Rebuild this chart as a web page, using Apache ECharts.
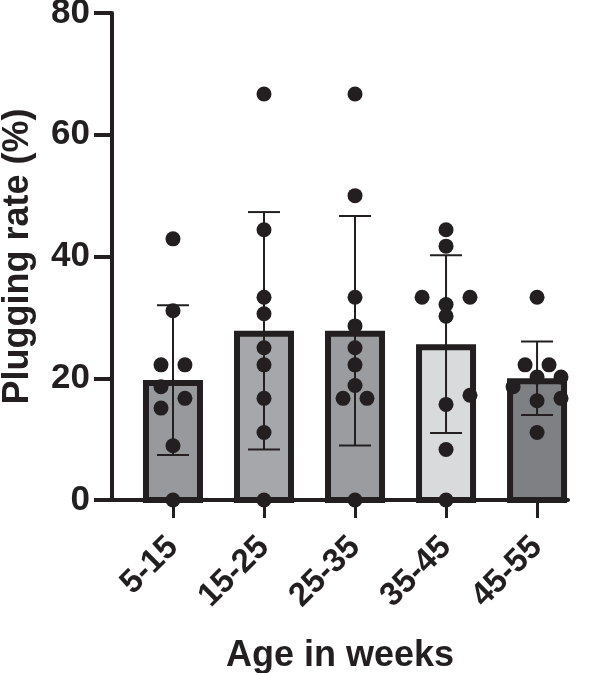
<!DOCTYPE html>
<html>
<head>
<meta charset="utf-8">
<title>Plugging rate</title>
<script src="https://cdn.jsdelivr.net/npm/echarts@6/dist/echarts.min.js"></script>
<style>
  html, body { margin: 0; padding: 0; background: #fff; }
  #main { width: 603px; height: 673px; }
</style>
</head>
<body>
<div id="main"></div>
<script>
var categories = ['5-15', '15-25', '25-35', '35-45', '45-55'];
var yTicks = [0, 20, 40, 60, 80];
var means = [19.7, 27.8, 27.8, 25.6, 20.0];
var sds = [12.3, 19.5, 18.85, 14.6, 6.05];

// individual points per age group, with horizontal jitter in "steps"
var pts1 = [42.9, 31.1, 22.2, 22.2, 18.6, 16.7, 15.1, 8.9, 0];
var jit1 = [0, 0, -1, 1, -1, 1, -1, 0, 0];
var pts2 = [66.7, 44.4, 33.3, 30.6, 25.0, 22.2, 16.7, 11.1, 0];
var jit2 = [0, 0, 0, 0, 0, 0, 0, 0, 0];
var pts3 = [66.7, 50.0, 33.3, 28.6, 25.0, 22.2, 18.8, 16.7, 16.7, 0];
var jit3 = [0, 0, 0, 0, 0, 0, 0, -1, 1, 0];
var pts4 = [44.4, 41.7, 33.3, 33.3, 32.1, 30.2, 17.2, 15.7, 8.3, 0];
var jit4 = [0, 0, -2, 2, 0, 0, 2, 0, 0, 0];
var pts5 = [33.3, 22.2, 22.2, 20.2, 20.2, 18.6, 16.3, 16.7, 11.1];
var jit5 = [0, -1, 1, 0, 2, -2, 0, 2, 0];

var ink = '#231f20';
var fills = ['#98999c', '#a6a7aa', '#9b9c9f', '#d9dadc', '#7f8083'];
var font = "'Liberation Sans', Arial, Helvetica, sans-serif";
var step = 0.1316;

var groups = [[pts1, jit1], [pts2, jit2], [pts3, jit3], [pts4, jit4], [pts5, jit5]];
var dots = [];
groups.forEach(function (g, i) {
    g[0].forEach(function (v, k) {
        dots.push([i + g[1][k] * step, v]);
    });
});
var barData = means.map(function (m, i) { return [i, m, sds[i]]; });
var tickIdx = categories.map(function (c, i) { return i; });

var chart = echarts.init(document.getElementById('main'));
var option = {
    animation: false,
    grid: { left: 112, right: 35, top: 13, bottom: 173, containLabel: false, outerBoundsMode: 'none' },
    xAxis: {
        type: 'value',
        min: -0.67,
        max: 4.34,
        splitLine: { show: false },
        axisLine: { show: true, lineStyle: { color: ink, width: 4 } },
        axisTick: { show: true, customValues: tickIdx, length: 18, lineStyle: { color: ink, width: 3 } },
        axisLabel: {
            customValues: tickIdx,
            rotate: 45,
            margin: 42,
            color: ink,
            fontFamily: font,
            fontWeight: 'bold',
            fontSize: 33,
            formatter: function (v) { return categories[Math.round(v)]; }
        },
        name: 'Age in weeks',
        nameLocation: 'middle',
        nameGap: 138,
        nameTextStyle: { color: ink, fontFamily: font, fontWeight: 'bold', fontSize: 36 }
    },
    yAxis: {
        type: 'value',
        min: yTicks[0],
        max: yTicks[yTicks.length - 1],
        interval: 20,
        splitLine: { show: false },
        axisLine: { show: true, onZero: false, lineStyle: { color: ink, width: 4 } },
        axisTick: { show: true, length: 18, lineStyle: { color: ink, width: 4 } },
        axisLabel: { margin: 22, color: ink, fontFamily: font, fontWeight: 'bold', fontSize: 35 },
        name: 'Plugging rate (%)',
        nameLocation: 'middle',
        nameRotate: 90,
        nameGap: 76,
        nameTextStyle: { color: ink, fontFamily: font, fontWeight: 'bold', fontSize: 36 }
    },
    series: [
        {
            type: 'custom',
            z: 1,
            data: barData,
            renderItem: function (params, api) {
                var i = api.value(0);
                var top = api.coord([i, api.value(1)]);
                var base = api.coord([i, 0]);
                return {
                    type: 'rect',
                    shape: { x: top[0] - 27, y: top[1] + 3, width: 54, height: base[1] - top[1] - 3 },
                    style: { fill: fills[i], stroke: ink, lineWidth: 6 }
                };
            }
        },
        {
            type: 'custom',
            z: 2,
            data: barData,
            renderItem: function (params, api) {
                var i = api.value(0), m = api.value(1), s = api.value(2);
                var hi = api.coord([i, m + s]);
                var lo = api.coord([i, m - s]);
                var st = { stroke: ink, lineWidth: 2 };
                return {
                    type: 'group',
                    children: [
                        { type: 'line', shape: { x1: hi[0], y1: hi[1], x2: lo[0], y2: lo[1] }, style: st },
                        { type: 'line', shape: { x1: hi[0] - 16, y1: hi[1], x2: hi[0] + 16, y2: hi[1] }, style: st },
                        { type: 'line', shape: { x1: lo[0] - 16, y1: lo[1], x2: lo[0] + 16, y2: lo[1] }, style: st }
                    ]
                };
            }
        },
        {
            type: 'scatter',
            z: 3,
            symbolSize: 15,
            itemStyle: { color: ink, opacity: 1 },
            data: dots
        }
    ]
};
chart.setOption(option);
</script>
</body>
</html>
